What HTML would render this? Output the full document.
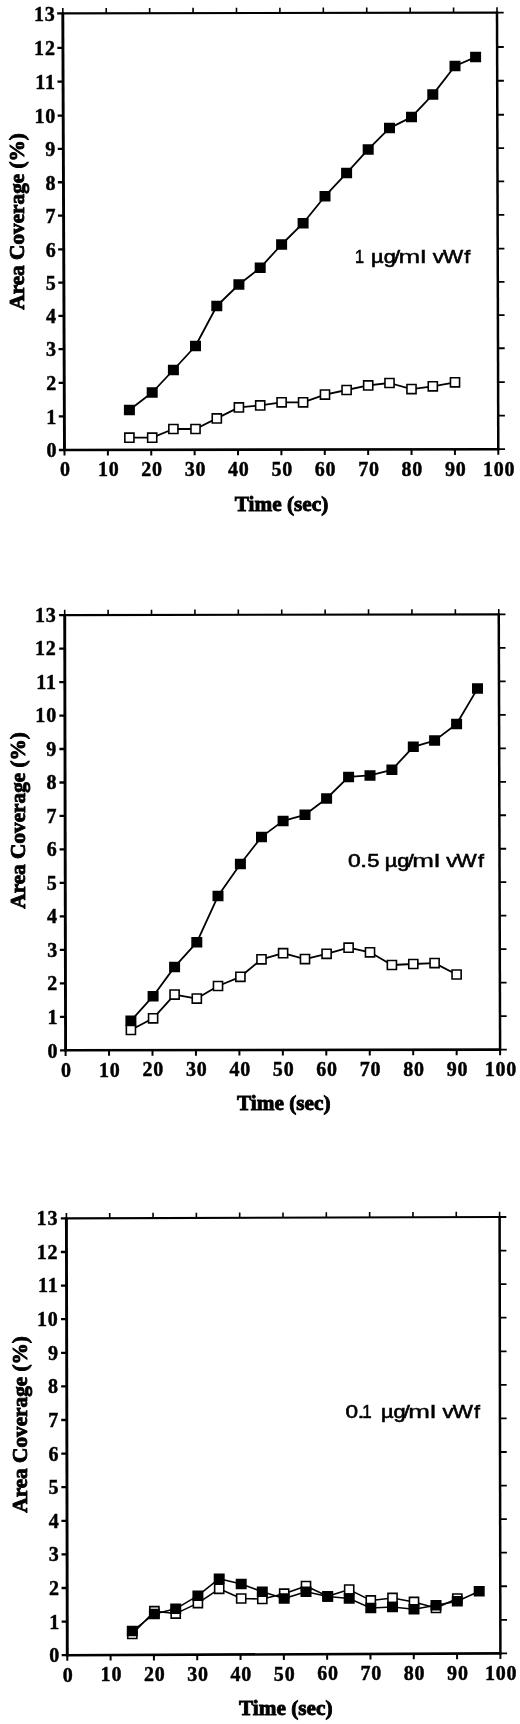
<!DOCTYPE html>
<html lang="en">
<head>
<meta charset="utf-8">
<title>Area coverage vs time</title>
<style>
html,body{margin:0;padding:0;background:#fff;}
body{width:520px;height:1724px;overflow:hidden;}
svg{display:block;position:absolute;left:0;top:0;filter:blur(0.45px);}
text{white-space:pre;}
</style>
</head>
<body>
<svg width="520" height="1724" viewBox="0 0 520 1724">
<rect width="520" height="1724" fill="#fff"/>
<g>
<line x1="62.8" y1="12.4" x2="64.5" y2="451" stroke="#000" stroke-width="2.9"/>
<line x1="61.8" y1="13.4" x2="498" y2="12.6" stroke="#000" stroke-width="2.1"/>
<line x1="497" y1="11.6" x2="498.3" y2="450.2" stroke="#000" stroke-width="2.5"/>
<line x1="63.5" y1="450" x2="499.3" y2="449.2" stroke="#000" stroke-width="2.6"/>
<path d="M64.5 450v5.6M107.88 449.92v5.6M151.26 449.84v5.6M194.64 449.76v5.6M238.02 449.68v5.6M281.4 449.6v5.6M324.78 449.52v5.6M368.16 449.44v5.6M411.54 449.36v5.6M454.92 449.28v5.6M498.3 449.2v5.6" fill="none" stroke="#000" stroke-width="2"/>
<path d="M62.8 13.4v-5.3M106.22 13.32v-5.3M149.64 13.24v-5.3M193.06 13.16v-5.3M236.48 13.08v-5.3M279.9 13v-5.3M323.32 12.92v-5.3M366.74 12.84v-5.3M410.16 12.76v-5.3M453.58 12.68v-5.3M497 12.6v-5.3" fill="none" stroke="#000" stroke-width="1.6"/>
<path d="M64.5 450h-5.6M64.37 416.42h-5.6M64.24 382.83h-5.6M64.11 349.05h-5.6M63.98 315.86h-5.6M63.85 282.68h-5.6M63.72 249.39h-5.6M63.58 215.71h-5.6M63.45 182.27h-5.6M63.32 148.84h-5.6M63.19 115.55h-5.6M63.06 81.57h-5.6M62.93 47.78h-5.6M62.8 13.4h-5.6" fill="none" stroke="#000" stroke-width="2.3"/>
<path d="M498.3 449.2h6.7M498.2 415.62h6.7M498.1 382.03h6.7M498 348.25h6.7M497.9 315.06h6.7M497.8 281.88h6.7M497.7 248.59h6.7M497.6 214.91h6.7M497.5 181.47h6.7M497.4 148.04h6.7M497.3 114.75h6.7M497.2 80.77h6.7M497.1 46.98h6.7M497 12.6h6.7" fill="none" stroke="#000" stroke-width="1.8"/>
<g font-family='"Liberation Serif", "DejaVu Serif", serif' font-weight="bold" font-size="20" letter-spacing="0.8" fill="#000" stroke="#000" stroke-width="0.45">
<g text-anchor="middle">
<text x="65.3" y="476.3">0</text>
<text x="108.68" y="476.22">10</text>
<text x="152.06" y="476.14">20</text>
<text x="195.44" y="476.06">30</text>
<text x="238.82" y="475.98">40</text>
<text x="282.2" y="475.9">50</text>
<text x="325.58" y="475.82">60</text>
<text x="368.96" y="475.74">70</text>
<text x="412.34" y="475.66">80</text>
<text x="455.72" y="475.58">90</text>
<text x="499.1" y="475.5">100</text>
</g>
<g text-anchor="end">
<text x="57.3" y="457.4">0</text>
<text x="57.17" y="423.82">1</text>
<text x="57.04" y="390.23">2</text>
<text x="56.91" y="356.45">3</text>
<text x="56.78" y="323.26">4</text>
<text x="56.65" y="290.08">5</text>
<text x="56.52" y="256.79">6</text>
<text x="56.38" y="223.11">7</text>
<text x="56.25" y="189.67">8</text>
<text x="56.12" y="156.24">9</text>
<text x="55.99" y="122.95">10</text>
<text x="55.86" y="88.97">11</text>
<text x="55.73" y="55.18">12</text>
<text x="55.6" y="20.8">13</text>
</g>
</g>
<g font-family='"Liberation Serif", "DejaVu Serif", serif' font-weight="bold" font-size="21.25" fill="#000" stroke="#000" stroke-width="0.9" text-anchor="middle">
<text x="281.5" y="510.5">Time (sec)</text>
<text transform="translate(23.65 221.4) rotate(-90)">Area Coverage (%)</text>
</g>
<text y="262.6" font-family='"Liberation Sans", "DejaVu Sans", sans-serif' font-size="19" fill="#000" stroke="#000" stroke-width="0.6"><tspan x="354.96" textLength="9.03" lengthAdjust="spacingAndGlyphs">1</tspan><tspan font-size="1"> </tspan><tspan x="371.11" textLength="24.7" lengthAdjust="spacingAndGlyphs">µg</tspan><tspan x="393.8" textLength="6.3" lengthAdjust="spacingAndGlyphs">/</tspan><tspan x="398.58" textLength="21.64" lengthAdjust="spacingAndGlyphs" stroke-width="0.4">m</tspan><tspan x="420.26" textLength="6.07" lengthAdjust="spacingAndGlyphs" stroke-width="0.4">l</tspan><tspan font-size="1"> </tspan><tspan x="432.72" textLength="11.15" lengthAdjust="spacingAndGlyphs">v</tspan><tspan x="442.91" textLength="20.17" lengthAdjust="spacingAndGlyphs">W</tspan><tspan x="464.3" textLength="5.97" lengthAdjust="spacingAndGlyphs">f</tspan></text>
<polyline points="129.4,410 152.2,392.5 173.4,370 195.5,346 216.8,306 238.9,284.5 260.2,267.8 281.6,244.5 303.1,223.2 325,196.2 346.6,173.1 368.2,149.4 389.5,128.1 411.5,117.1 432.8,94.6 455,66 475.6,57.1" fill="none" stroke="#000" stroke-width="1.8" stroke-linejoin="round"/>
<path d="M123.9 404.75h11v10.5h-11zM146.7 387.25h11v10.5h-11zM167.9 364.75h11v10.5h-11zM190 340.75h11v10.5h-11zM211.3 300.75h11v10.5h-11zM233.4 279.25h11v10.5h-11zM254.7 262.55h11v10.5h-11zM276.1 239.25h11v10.5h-11zM297.6 217.95h11v10.5h-11zM319.5 190.95h11v10.5h-11zM341.1 167.85h11v10.5h-11zM362.7 144.15h11v10.5h-11zM384 122.85h11v10.5h-11zM406 111.85h11v10.5h-11zM427.3 89.35h11v10.5h-11zM449.5 60.75h11v10.5h-11zM470.1 51.85h11v10.5h-11z" fill="#000"/>
<polyline points="129.4,437.7 152.2,437.7 173.4,429 195.5,429 216.8,418.4 238.9,407.4 260.2,405.4 281.6,402.3 303.1,402.3 325,394.6 346.6,390 368.2,385.4 389.5,383 411.5,389.1 432.8,386.3 455,382.3" fill="none" stroke="#000" stroke-width="1.8" stroke-linejoin="round"/>
<path d="M124.85 433.15h9.1v9.1h-9.1zM147.65 433.15h9.1v9.1h-9.1zM168.85 424.45h9.1v9.1h-9.1zM190.95 424.45h9.1v9.1h-9.1zM212.25 413.85h9.1v9.1h-9.1zM234.35 402.85h9.1v9.1h-9.1zM255.65 400.85h9.1v9.1h-9.1zM277.05 397.75h9.1v9.1h-9.1zM298.55 397.75h9.1v9.1h-9.1zM320.45 390.05h9.1v9.1h-9.1zM342.05 385.45h9.1v9.1h-9.1zM363.65 380.85h9.1v9.1h-9.1zM384.95 378.45h9.1v9.1h-9.1zM406.95 384.55h9.1v9.1h-9.1zM428.25 381.75h9.1v9.1h-9.1zM450.45 377.75h9.1v9.1h-9.1z" fill="#fff" stroke="#000" stroke-width="1.6"/>
</g>
<g>
<line x1="64.7" y1="614.1" x2="65.6" y2="1051.3" stroke="#000" stroke-width="2.9"/>
<line x1="63.7" y1="615.1" x2="499.75" y2="614.4" stroke="#000" stroke-width="2.1"/>
<line x1="498.75" y1="613.4" x2="500.1" y2="1050.6" stroke="#000" stroke-width="2.5"/>
<line x1="64.6" y1="1050.3" x2="501.1" y2="1049.6" stroke="#000" stroke-width="2.6"/>
<path d="M65.6 1050.3v5.6M109.05 1050.23v5.6M152.5 1050.16v5.6M195.95 1050.09v5.6M239.4 1050.02v5.6M282.85 1049.95v5.6M326.3 1049.88v5.6M369.75 1049.81v5.6M413.2 1049.74v5.6M456.65 1049.67v5.6M500.1 1049.6v5.6" fill="none" stroke="#000" stroke-width="2"/>
<path d="M64.7 615.1v-5.3M108.11 615.03v-5.3M151.51 614.96v-5.3M194.92 614.89v-5.3M238.32 614.82v-5.3M281.73 614.75v-5.3M325.13 614.68v-5.3M368.53 614.61v-5.3M411.94 614.54v-5.3M455.35 614.47v-5.3M498.75 614.4v-5.3" fill="none" stroke="#000" stroke-width="1.6"/>
<path d="M65.6 1050.3h-5.6M65.53 1016.82h-5.6M65.46 983.35h-5.6M65.39 949.87h-5.6M65.32 916.39h-5.6M65.25 882.92h-5.6M65.18 849.44h-5.6M65.12 815.96h-5.6M65.05 782.48h-5.6M64.98 749.01h-5.6M64.91 715.53h-5.6M64.84 682.05h-5.6M64.77 648.58h-5.6M64.7 615.1h-5.6" fill="none" stroke="#000" stroke-width="2.3"/>
<path d="M500.1 1049.6h6.7M500 1016.12h6.7M499.89 982.65h6.7M499.79 949.17h6.7M499.68 915.69h6.7M499.58 882.22h6.7M499.48 848.74h6.7M499.37 815.26h6.7M499.27 781.78h6.7M499.17 748.31h6.7M499.06 714.83h6.7M498.96 681.35h6.7M498.85 647.88h6.7M498.75 614.4h6.7" fill="none" stroke="#000" stroke-width="1.8"/>
<g font-family='"Liberation Serif", "DejaVu Serif", serif' font-weight="bold" font-size="20" letter-spacing="0.8" fill="#000" stroke="#000" stroke-width="0.45">
<g text-anchor="middle">
<text x="66.4" y="1076.6">0</text>
<text x="109.85" y="1076.53">10</text>
<text x="153.3" y="1076.46">20</text>
<text x="196.75" y="1076.39">30</text>
<text x="240.2" y="1076.32">40</text>
<text x="283.65" y="1076.25">50</text>
<text x="327.1" y="1076.18">60</text>
<text x="370.55" y="1076.11">70</text>
<text x="414" y="1076.04">80</text>
<text x="457.45" y="1075.97">90</text>
<text x="500.9" y="1075.9">100</text>
</g>
<g text-anchor="end">
<text x="58.4" y="1057.5">0</text>
<text x="58.25" y="1023.98">1</text>
<text x="58.11" y="990.47">2</text>
<text x="57.96" y="956.95">3</text>
<text x="57.82" y="923.44">4</text>
<text x="57.67" y="889.92">5</text>
<text x="57.52" y="856.41">6</text>
<text x="57.38" y="822.89">7</text>
<text x="57.23" y="789.38">8</text>
<text x="57.08" y="755.86">9</text>
<text x="56.94" y="722.35">10</text>
<text x="56.79" y="688.83">11</text>
<text x="56.65" y="655.32">12</text>
<text x="56.5" y="621.8">13</text>
</g>
</g>
<g font-family='"Liberation Serif", "DejaVu Serif", serif' font-weight="bold" font-size="21.25" fill="#000" stroke="#000" stroke-width="0.9" text-anchor="middle">
<text x="283.8" y="1110.15">Time (sec)</text>
<text transform="translate(25.15 820.4) rotate(-90)">Area Coverage (%)</text>
</g>
<text y="867.3" font-family='"Liberation Sans", "DejaVu Sans", sans-serif' font-size="19" fill="#000" stroke="#000" stroke-width="0.6"><tspan x="348.01" textLength="12.68" lengthAdjust="spacingAndGlyphs">0</tspan><tspan x="360.39" textLength="6.71" lengthAdjust="spacingAndGlyphs">.</tspan><tspan x="367.32" textLength="12.2" lengthAdjust="spacingAndGlyphs">5</tspan><tspan font-size="1"> </tspan><tspan x="384.76" textLength="24.7" lengthAdjust="spacingAndGlyphs">µg</tspan><tspan x="407.45" textLength="6.3" lengthAdjust="spacingAndGlyphs">/</tspan><tspan x="412.23" textLength="21.64" lengthAdjust="spacingAndGlyphs" stroke-width="0.4">m</tspan><tspan x="433.91" textLength="6.07" lengthAdjust="spacingAndGlyphs" stroke-width="0.4">l</tspan><tspan font-size="1"> </tspan><tspan x="446.37" textLength="11.15" lengthAdjust="spacingAndGlyphs">v</tspan><tspan x="456.56" textLength="20.17" lengthAdjust="spacingAndGlyphs">W</tspan><tspan x="477.95" textLength="5.97" lengthAdjust="spacingAndGlyphs">f</tspan></text>
<polyline points="130.9,1020.8 153.1,996.2 174.6,966.9 196.8,942.3 218,896.1 240.4,864 261.5,836.9 283.1,820.9 305,814.8 326.6,798.5 348.6,776.9 370,775.4 391.9,769.8 413.3,746.8 434.6,740.6 456.6,724 477.5,688.6" fill="none" stroke="#000" stroke-width="1.8" stroke-linejoin="round"/>
<path d="M125.4 1015.55h11v10.5h-11zM147.6 990.95h11v10.5h-11zM169.1 961.65h11v10.5h-11zM191.3 937.05h11v10.5h-11zM212.5 890.85h11v10.5h-11zM234.9 858.75h11v10.5h-11zM256 831.65h11v10.5h-11zM277.6 815.65h11v10.5h-11zM299.5 809.55h11v10.5h-11zM321.1 793.25h11v10.5h-11zM343.1 771.65h11v10.5h-11zM364.5 770.15h11v10.5h-11zM386.4 764.55h11v10.5h-11zM407.8 741.55h11v10.5h-11zM429.1 735.35h11v10.5h-11zM451.1 718.75h11v10.5h-11zM472 683.35h11v10.5h-11z" fill="#000"/>
<polyline points="130.9,1030 153.1,1018.3 174.6,994.6 196.8,998.6 218,986 240.4,976.8 261.5,959.3 283.1,953.2 305,959.1 326.6,953.8 348.6,947.7 370,952.3 391.9,965 413.3,964 434.6,963.1 456.6,974.5" fill="none" stroke="#000" stroke-width="1.8" stroke-linejoin="round"/>
<path d="M126.35 1025.45h9.1v9.1h-9.1zM148.55 1013.75h9.1v9.1h-9.1zM170.05 990.05h9.1v9.1h-9.1zM192.25 994.05h9.1v9.1h-9.1zM213.45 981.45h9.1v9.1h-9.1zM235.85 972.25h9.1v9.1h-9.1zM256.95 954.75h9.1v9.1h-9.1zM278.55 948.65h9.1v9.1h-9.1zM300.45 954.55h9.1v9.1h-9.1zM322.05 949.25h9.1v9.1h-9.1zM344.05 943.15h9.1v9.1h-9.1zM365.45 947.75h9.1v9.1h-9.1zM387.35 960.45h9.1v9.1h-9.1zM408.75 959.45h9.1v9.1h-9.1zM430.05 958.55h9.1v9.1h-9.1zM452.05 969.95h9.1v9.1h-9.1z" fill="#fff" stroke="#000" stroke-width="1.6"/>
</g>
<g>
<line x1="66.4" y1="1217.4" x2="67.3" y2="1656.2" stroke="#000" stroke-width="2.9"/>
<line x1="65.4" y1="1218.4" x2="500.6" y2="1217" stroke="#000" stroke-width="2.1"/>
<line x1="499.6" y1="1216" x2="500.4" y2="1654.4" stroke="#000" stroke-width="2.5"/>
<line x1="66.3" y1="1655.2" x2="501.4" y2="1653.4" stroke="#000" stroke-width="2.6"/>
<path d="M67.3 1655.2v5.6M110.61 1655.02v5.6M153.92 1654.84v5.6M197.23 1654.66v5.6M240.54 1654.48v5.6M283.85 1654.3v5.6M327.16 1654.12v5.6M370.47 1653.94v5.6M413.78 1653.76v5.6M457.09 1653.58v5.6M500.4 1653.4v5.6" fill="none" stroke="#000" stroke-width="2"/>
<path d="M66.4 1218.4v-5.3M109.72 1218.26v-5.3M153.04 1218.12v-5.3M196.36 1217.98v-5.3M239.68 1217.84v-5.3M283 1217.7v-5.3M326.32 1217.56v-5.3M369.64 1217.42v-5.3M412.96 1217.28v-5.3M456.28 1217.14v-5.3M499.6 1217v-5.3" fill="none" stroke="#000" stroke-width="1.6"/>
<path d="M67.3 1655.2h-5.6M67.23 1621.6h-5.6M67.16 1588h-5.6M67.09 1554.4h-5.6M67.02 1520.8h-5.6M66.95 1487.2h-5.6M66.88 1453.6h-5.6M66.82 1420h-5.6M66.75 1386.4h-5.6M66.68 1352.8h-5.6M66.61 1319.2h-5.6M66.54 1285.6h-5.6M66.47 1252h-5.6M66.4 1218.4h-5.6" fill="none" stroke="#000" stroke-width="2.3"/>
<path d="M500.4 1653.4h6.7M500.34 1619.83h6.7M500.28 1586.26h6.7M500.22 1552.69h6.7M500.15 1519.12h6.7M500.09 1485.55h6.7M500.03 1451.98h6.7M499.97 1418.42h6.7M499.91 1384.85h6.7M499.85 1351.28h6.7M499.78 1317.71h6.7M499.72 1284.14h6.7M499.66 1250.57h6.7M499.6 1217h6.7" fill="none" stroke="#000" stroke-width="1.8"/>
<g font-family='"Liberation Serif", "DejaVu Serif", serif' font-weight="bold" font-size="20" letter-spacing="0.8" fill="#000" stroke="#000" stroke-width="0.45">
<g text-anchor="middle">
<text x="68.1" y="1681.5">0</text>
<text x="111.41" y="1681.32">10</text>
<text x="154.72" y="1681.14">20</text>
<text x="198.03" y="1680.96">30</text>
<text x="241.34" y="1680.78">40</text>
<text x="284.65" y="1680.6">50</text>
<text x="327.96" y="1680.42">60</text>
<text x="371.27" y="1680.24">70</text>
<text x="414.58" y="1680.06">80</text>
<text x="457.89" y="1679.88">90</text>
<text x="501.2" y="1679.7">100</text>
</g>
<g text-anchor="end">
<text x="60.1" y="1662.4">0</text>
<text x="59.95" y="1628.76">1</text>
<text x="59.81" y="1595.12">2</text>
<text x="59.66" y="1561.48">3</text>
<text x="59.52" y="1527.85">4</text>
<text x="59.37" y="1494.21">5</text>
<text x="59.22" y="1460.57">6</text>
<text x="59.08" y="1426.93">7</text>
<text x="58.93" y="1393.29">8</text>
<text x="58.78" y="1359.65">9</text>
<text x="58.64" y="1326.02">10</text>
<text x="58.49" y="1292.38">11</text>
<text x="58.35" y="1258.74">12</text>
<text x="58.2" y="1225.1">13</text>
</g>
</g>
<g font-family='"Liberation Serif", "DejaVu Serif", serif' font-weight="bold" font-size="21.25" fill="#000" stroke="#000" stroke-width="0.9" text-anchor="middle">
<text x="285.8" y="1714.5">Time (sec)</text>
<text transform="translate(26.85 1424.4) rotate(-90)">Area Coverage (%)</text>
</g>
<text y="1418.2" font-family='"Liberation Sans", "DejaVu Sans", sans-serif' font-size="19" fill="#000" stroke="#000" stroke-width="0.6"><tspan x="345.62" textLength="12.57" lengthAdjust="spacingAndGlyphs">0</tspan><tspan x="357.5" textLength="7" lengthAdjust="spacingAndGlyphs">.</tspan><tspan x="362.31" textLength="9.42" lengthAdjust="spacingAndGlyphs">1</tspan><tspan font-size="1"> </tspan><tspan x="380.91" textLength="24.7" lengthAdjust="spacingAndGlyphs">µg</tspan><tspan x="403.6" textLength="6.3" lengthAdjust="spacingAndGlyphs">/</tspan><tspan x="408.38" textLength="21.64" lengthAdjust="spacingAndGlyphs" stroke-width="0.4">m</tspan><tspan x="430.06" textLength="6.07" lengthAdjust="spacingAndGlyphs" stroke-width="0.4">l</tspan><tspan font-size="1"> </tspan><tspan x="442.52" textLength="11.15" lengthAdjust="spacingAndGlyphs">v</tspan><tspan x="452.71" textLength="20.17" lengthAdjust="spacingAndGlyphs">W</tspan><tspan x="474.1" textLength="5.97" lengthAdjust="spacingAndGlyphs">f</tspan></text>
<polyline points="132.3,1634 154.4,1611.2 175.7,1613.6 197.9,1603.1 219.2,1588.8 241.2,1598.5 262.3,1599 284.2,1593.7 306,1586 327.7,1596.3 349.2,1589.6 370.8,1600.4 392.5,1597.9 414,1601.9 436,1608 457.3,1598.5" fill="none" stroke="#000" stroke-width="1.55" stroke-linejoin="round"/>
<path d="M127.75 1629.45h9.1v9.1h-9.1zM149.85 1606.65h9.1v9.1h-9.1zM171.15 1609.05h9.1v9.1h-9.1zM193.35 1598.55h9.1v9.1h-9.1zM214.65 1584.25h9.1v9.1h-9.1zM236.65 1593.95h9.1v9.1h-9.1zM257.75 1594.45h9.1v9.1h-9.1zM279.65 1589.15h9.1v9.1h-9.1zM301.45 1581.45h9.1v9.1h-9.1zM323.15 1591.75h9.1v9.1h-9.1zM344.65 1585.05h9.1v9.1h-9.1zM366.25 1595.85h9.1v9.1h-9.1zM387.95 1593.35h9.1v9.1h-9.1zM409.45 1597.35h9.1v9.1h-9.1zM431.45 1603.45h9.1v9.1h-9.1zM452.75 1593.95h9.1v9.1h-9.1z" fill="#fff" stroke="#000" stroke-width="1.6"/>
<polyline points="132.3,1631 154.4,1614 175.7,1608.8 197.9,1595.7 219.2,1578.7 241.2,1584 262.3,1591.7 284.2,1598.5 306,1591.7 327.7,1596.5 349.2,1598.5 370.8,1608.1 392.5,1607.1 414,1609.3 436,1605.2 457.3,1601.3 479.2,1591.3" fill="none" stroke="#000" stroke-width="1.55" stroke-linejoin="round"/>
<path d="M126.8 1625.75h11v10.5h-11zM148.9 1608.75h11v10.5h-11zM170.2 1603.55h11v10.5h-11zM192.4 1590.45h11v10.5h-11zM213.7 1573.45h11v10.5h-11zM235.7 1578.75h11v10.5h-11zM256.8 1586.45h11v10.5h-11zM278.7 1593.25h11v10.5h-11zM300.5 1586.45h11v10.5h-11zM322.2 1591.25h11v10.5h-11zM343.7 1593.25h11v10.5h-11zM365.3 1602.85h11v10.5h-11zM387 1601.85h11v10.5h-11zM408.5 1604.05h11v10.5h-11zM430.5 1599.95h11v10.5h-11zM451.8 1596.05h11v10.5h-11zM473.7 1586.05h11v10.5h-11z" fill="#000"/>
</g>
</svg>
</body>
</html>
